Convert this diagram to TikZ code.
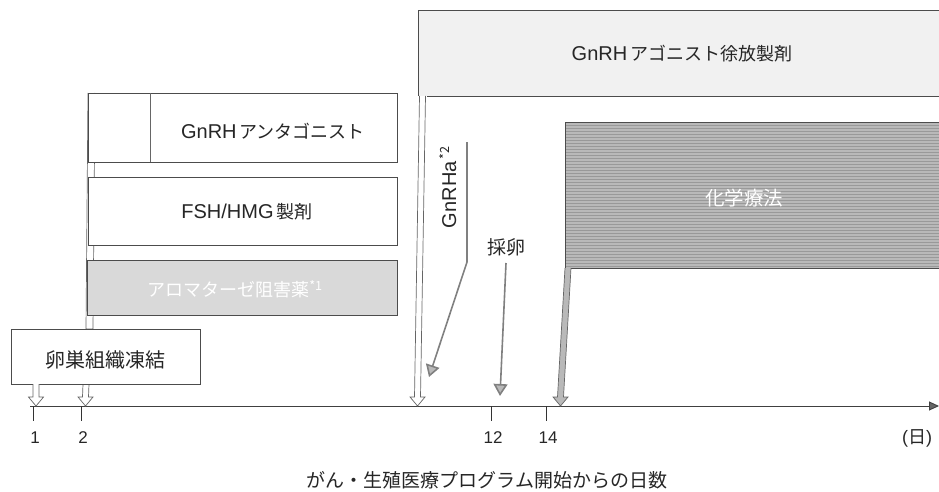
\documentclass[tikz,border=0pt]{standalone}
\usepackage{fontspec}
\setmainfont{Noto Sans CJK JP}
\newfontfamily\latfont{Liberation Sans}
\newcommand\latn[1]{{\latfont\fontsize{20}{24}\selectfont #1}}
\usetikzlibrary{arrows.meta,patterns}
\newcommand\hollowarr[4]{% #1 x at top, #2 top y, #3 x at tip, #4 fill
  \draw[hollowst, fill=#4] (#1-3,#2) -- (#3-3,397) -- (#3-7.5,397) -- (#3,406) -- (#3+7.5,397) -- (#3+3,397) -- (#1+3,#2);}
\begin{document}
\begin{tikzpicture}[x=1pt,y=-1pt,
  bandbox/.style={draw=black!70, line width=0.8pt, inner sep=0pt, outer sep=0pt, anchor=north west},
  openband/.style={inner sep=0pt, outer sep=0pt, anchor=north west},
  bline/.style={draw=black!70, line width=0.8pt},
  txt/.style={font=\fontsize{18}{22}\selectfont, text=black!85, inner sep=0pt},
  wtxt/.style={txt, text=white},
  numst/.style={font=\latfont\fontsize{17}{20}\selectfont, text=black!85, inner sep=0pt},
  hollowst/.style={draw=black!60, line width=0.7pt},
  grayarrow/.style={draw=black!50, line width=1.6pt, -{Triangle[length=12pt,width=14pt,fill=gray!55]}},
  tickst/.style={draw=black!80, line width=0.8pt}
]
\useasboundingbox (0,0) rectangle (939,492);

% ---- axis ----
\coordinate (axL) at (30,406);
\coordinate (axR) at (939,406);
\draw[draw=black!75, line width=0.9pt, -{Triangle[length=10pt,width=9pt,fill=black!60]}] (axL) -- (axR);
\foreach \xx/\lab/\nm in {33/1/a, 81/2/b, 491/12/c, 546/14/d}{
  \coordinate (t\nm) at (\xx,406);
  \draw[tickst] (t\nm) -- ++(0,15);
  \node[numst] (l\nm) at (\xx+2,438) {\lab};
}
\node[txt] (unit) at (917,438) {{\latfont(}日{\latfont)}};
\node[txt, font=\fontsize{19}{22}\selectfont] (caption) at (487,480) {がん・生殖医療プログラム開始からの日数};

% ---- GnRH agonist depot ----
\node[openband, fill=gray!11, minimum width=521pt, minimum height=86pt] (agon) at (418,10) {};
\draw[bline] (agon.north east) -- (agon.north west) -- (agon.south west);
\draw[bline] (agon.south east) -- (427,96);
\hollowarr{422.5}{96}{417.5}{white}
\node[txt] (agonT) at (682,54) {\latn{GnRH}\,アゴニスト徐放製剤};

% ---- chemotherapy ----
\node[openband, fill=gray!55, minimum width=374pt, minimum height=146pt] (chemo) at (565,122) {};
\path[pattern=horizontal lines, pattern color=gray!80] (565,122) rectangle (939,268);
\draw[bline] (chemo.north east) -- (chemo.north west) -- (chemo.south west);
\draw[bline] (chemo.south east) -- (571,268);
\hollowarr{568}{268}{560.5}{gray!55}
\node[wtxt, font=\fontsize{19.5}{22}\selectfont] (chemoT) at (744,198) {化学療法};

% ---- left group stem ----
\draw[hollowst, fill=white] (88,93) -- (86,329) -- (93,329) -- (95,93);
\hollowarr{86}{384}{85.5}{white}

% ---- GnRH antagonist ----
\node[bandbox, fill=white, minimum width=309pt, minimum height=69pt] (antag) at (88,93) {};
\draw[draw=black!60, line width=0.6pt] (150,93) -- (150,162);
\node[txt] (antagT) at (273,131) {\latn{GnRH}\,アンタゴニスト};

% ---- FSH/HMG ----
\node[bandbox, fill=white, minimum width=309pt, minimum height=68pt] (fsh) at (88,177) {};
\node[txt] (fshT) at (247,212) {\latn{FSH/HMG}\,製剤};

% ---- aromatase inhibitor ----
\node[bandbox, fill=gray!30, minimum width=310pt, minimum height=55pt] (arom) at (87,260) {};
\node[wtxt] (aromT) at (235,289) {アロマターゼ阻害薬\textsuperscript{*1}};

% ---- ovarian tissue cryopreservation ----
\node[bandbox, fill=white, minimum width=189pt, minimum height=55pt] (ovary) at (11,329) {};
\node[txt, font=\fontsize{20}{24}\selectfont] (ovaryT) at (105,360) {卵巣組織凍結};
\hollowarr{36}{384}{36}{white}

% ---- GnRHa*2 ----
\node[txt, rotate=90] (gnrha) at (448,187) {\latn{GnRHa}\textsuperscript{\,*2}};
\coordinate (ga1) at (467,142);
\coordinate (ga2) at (467,262);
\coordinate (ga3) at (429,377);
\draw[grayarrow] (ga1) -- (ga2) -- (ga3);

% ---- oocyte retrieval ----
\node[txt, font=\fontsize{19}{22}\selectfont] (ret) at (506,247) {採卵};
\coordinate (re1) at (506,263);
\coordinate (re2) at (500,396);
\draw[grayarrow] (re1) -- (re2);
\end{tikzpicture}
\end{document}
